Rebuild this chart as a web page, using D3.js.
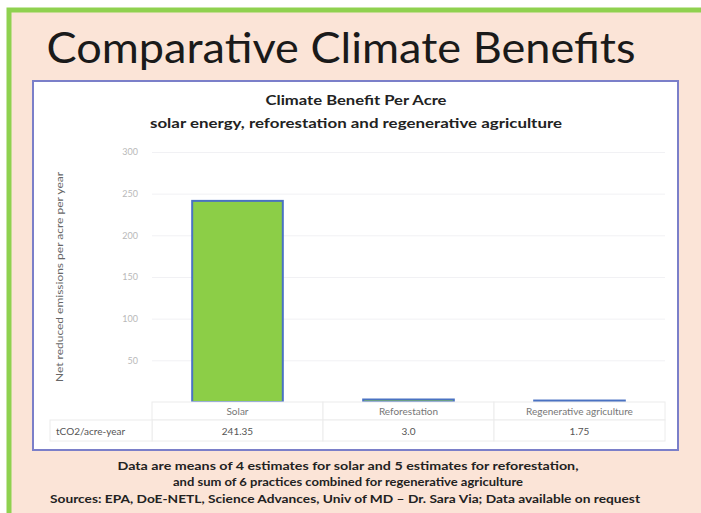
<!DOCTYPE html>
<html>
<head>
<meta charset="UTF-8">
<title>Comparative Climate Benefits</title>
<script type="text/javascript" src="https://d3js.org/d3.v7.min.js"></script>
<style>
body { margin: 0; background: #fff; }
svg text { font-family: Lato, "Open Sans", sans-serif; }
</style>
</head>
<body>
<div id="chart"></div>

<script type="text/javascript">

// data
var categories  = ["Solar", "Reforestation", "Regenerative agriculture"]
var values      = [241.35, 3.0, 1.75]
var valueLabels = ["241.35", "3.0", "1.75"]
var yTicks      = [50, 100, 150, 200, 250, 300]
var rowLabel    = "tCO2/acre-year"
var notes = [
	"Data are means of  4 estimates for solar and 5 estimates for reforestation,",
	"and sum of 6 practices combined for regenerative agriculture",
	"Sources: EPA, DoE-NETL, Science Advances, Univ of MD \u2013 Dr. Sara Via; Data available on request"
]

var width  = 701
var height = 513

var svg = d3.select("#chart").append("svg")
	.attr("width", width)
	.attr("height", height)

// slide background and green frame
svg.append("rect")
	.attr("x", 9).attr("y", 10)
	.attr("width", 720).attr("height", 530)
	.attr("fill", "#fbe4d7")
	.attr("stroke", "#8fd14f")
	.attr("stroke-width", 5)

svg.append("text")
	.attr("x", 341).attr("y", 63)
	.attr("text-anchor", "middle")
	.attr("font-size", 42)
	.attr("fill", "#1a1a1a")
	.attr("textLength", 589)
	.attr("lengthAdjust", "spacingAndGlyphs")
	.text("Comparative Climate Benefits")

// chart panel
svg.append("rect")
	.attr("x", 33).attr("y", 81)
	.attr("width", 645).attr("height", 369)
	.attr("fill", "#fff")
	.attr("stroke", "#7b7fc9")
	.attr("stroke-width", 2)

svg.append("text")
	.attr("x", 356).attr("y", 105)
	.attr("text-anchor", "middle")
	.attr("font-size", 13).attr("font-weight", "bold")
	.attr("fill", "#222")
	.attr("textLength", 181).attr("lengthAdjust", "spacingAndGlyphs")
	.text("Climate Benefit Per Acre")

svg.append("text")
	.attr("x", 356).attr("y", 128)
	.attr("text-anchor", "middle")
	.attr("font-size", 14).attr("font-weight", "bold")
	.attr("fill", "#222")
	.attr("textLength", 412).attr("lengthAdjust", "spacingAndGlyphs")
	.text("solar energy, reforestation and regenerative agriculture")

var x = d3.scaleBand()
	.domain(categories)
	.range([152, 665])
	.paddingInner(0.47)
	.paddingOuter(0.235)

var y = d3.scaleLinear()
	.domain([0, 300])
	.range([402, 152])

// gridlines and faint tick labels
var grid = svg.append("g")
	.attr("transform", "translate(152,0)")
	.call(d3.axisLeft(y).tickValues(yTicks).tickSize(-513).tickPadding(14).tickFormat(d3.format("d")))
grid.select(".domain").remove()
grid.selectAll(".tick line").attr("stroke", "#f1f1f4")
grid.selectAll(".tick text")
	.attr("fill", "#b9b9b9")
	.attr("font-size", 9)
	.style("font-family", "Lato, sans-serif")

svg.append("text")
	.attr("transform", "translate(63,277) rotate(-90)")
	.attr("text-anchor", "middle")
	.attr("font-size", 9)
	.attr("fill", "#666")
	.attr("textLength", 210).attr("lengthAdjust", "spacingAndGlyphs")
	.text("Net reduced emissions per acre per year")

// bars
svg.selectAll(".bar")
	.data(values).enter()
	.append("rect")
	.attr("class", "bar")
	.attr("x", function(d, i) { return x(categories[i]) })
	.attr("width", x.bandwidth())
	.attr("y", function(d) { return y(d) })
	.attr("height", function(d) { return y(0) - y(d) })
	.attr("fill", "#8cce47")
	.attr("stroke", "#4a72c2")
	.attr("stroke-width", 2)

// data table under the axis
var step = x.step()
var table = svg.append("g")

table.selectAll(".head")
	.data(categories).enter()
	.append("rect")
	.attr("x", function(d) { return x(d) + x.bandwidth() / 2 - step / 2 })
	.attr("y", 402).attr("width", step).attr("height", 18)
	.attr("fill", "#fff").attr("stroke", "#ececec")

table.selectAll(".val")
	.data(valueLabels).enter()
	.append("rect")
	.attr("x", function(d, i) { return x(categories[i]) + x.bandwidth() / 2 - step / 2 })
	.attr("y", 420).attr("width", step).attr("height", 21)
	.attr("fill", "#fff").attr("stroke", "#ececec")

table.append("rect")
	.attr("x", 50).attr("y", 420).attr("width", 102).attr("height", 21)
	.attr("fill", "#fff").attr("stroke", "#ececec")

table.selectAll(".headtext")
	.data(categories).enter()
	.append("text")
	.attr("x", function(d) { return x(d) + x.bandwidth() / 2 })
	.attr("y", 415)
	.attr("text-anchor", "middle")
	.attr("font-size", 10)
	.attr("fill", "#777")
	.text(function(d) { return d })

table.selectAll(".valtext")
	.data(valueLabels).enter()
	.append("text")
	.attr("x", function(d, i) { return x(categories[i]) + x.bandwidth() / 2 })
	.attr("y", 435)
	.attr("text-anchor", "middle")
	.attr("font-size", 10)
	.attr("fill", "#555")
	.text(function(d) { return d })

table.append("text")
	.attr("x", 56).attr("y", 435)
	.attr("font-size", 10)
	.attr("fill", "#555")
	.text(rowLabel)

// footnotes
var noteY = [470, 486, 503]
var noteW = [461, 350, 590]
svg.selectAll(".note")
	.data(notes).enter()
	.append("text")
	.attr("x", function(d, i) { return i == 2 ? 345 : 348 })
	.attr("y", function(d, i) { return noteY[i] })
	.attr("text-anchor", "middle")
	.attr("font-size", 10.5).attr("font-weight", "bold")
	.attr("fill", "#222")
	.attr("textLength", function(d, i) { return noteW[i] })
	.attr("lengthAdjust", "spacingAndGlyphs")
	.text(function(d) { return d })

</script>
</body>
</html>
